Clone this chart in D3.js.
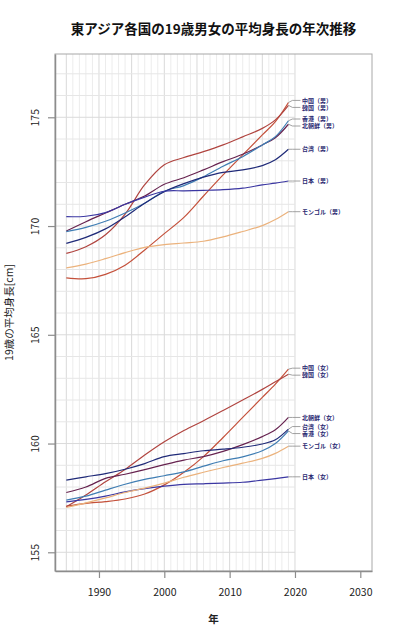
<!DOCTYPE html>
<html lang="ja">
<head>
<meta charset="utf-8">
<script src="https://cdn.jsdelivr.net/npm/d3@7"></script>
<style>
  body { margin: 0; background: #fff; }
  text { font-family: "Noto Sans CJK JP", "Noto Sans", sans-serif; }
  text.label { font-family: "Liberation Sans", "Noto Sans CJK JP", sans-serif; }
</style>
</head>
<body>
<div id="chart"></div>
<script>
// Years sampled from the curves
var years = [1985, 1988, 1991, 1994, 1997, 2000, 2003, 2006, 2009, 2012, 2015, 2017, 2019];

// Male heights (cm)
var maleChina    = [167.62, 167.58, 167.78, 168.2, 168.9, 169.65, 170.4, 171.38, 172.35, 173.27, 174.19, 174.8, 175.68];
var maleKorea    = [168.74, 169.05, 169.6, 170.55, 171.9, 172.82, 173.15, 173.42, 173.73, 174.1, 174.49, 174.88, 175.55];
var maleNKorea   = [169.77, 170.2, 170.6, 171.0, 171.38, 171.92, 172.22, 172.58, 172.96, 173.3, 173.73, 174.06, 174.68];
var maleHongKong = [169.74, 169.94, 170.22, 170.6, 171.05, 171.6, 171.86, 172.27, 172.75, 173.19, 173.73, 174.11, 174.84];
var maleTaiwan   = [169.2, 169.48, 169.87, 170.43, 171.05, 171.58, 171.95, 172.25, 172.47, 172.58, 172.78, 173.05, 173.53];
var maleJapan    = [170.43, 170.45, 170.62, 171.0, 171.33, 171.6, 171.62, 171.64, 171.67, 171.74, 171.89, 171.97, 172.07];
var maleMongolia = [168.08, 168.25, 168.5, 168.78, 169.02, 169.15, 169.22, 169.3, 169.5, 169.75, 170.02, 170.3, 170.66];

// Female heights (cm)
var femaleChina    = [157.12, 157.25, 157.33, 157.45, 157.68, 158.1, 158.68, 159.4, 160.28, 161.2, 162.12, 162.73, 163.42];
var femaleKorea    = [157.09, 157.63, 158.24, 158.81, 159.47, 160.08, 160.6, 161.05, 161.52, 162.0, 162.49, 162.84, 163.19];
var femaleNKorea   = [157.75, 158.0, 158.4, 158.59, 158.8, 159.03, 159.24, 159.4, 159.64, 159.95, 160.32, 160.63, 161.2];
var femaleHongKong = [157.4, 157.58, 157.86, 158.13, 158.35, 158.52, 158.7, 158.96, 159.21, 159.39, 159.67, 160.0, 160.58];
var femaleTaiwan   = [158.32, 158.47, 158.62, 158.82, 159.08, 159.4, 159.54, 159.67, 159.74, 159.83, 159.98, 160.17, 160.66];
var femaleJapan    = [157.32, 157.43, 157.58, 157.78, 157.93, 158.04, 158.12, 158.15, 158.18, 158.22, 158.32, 158.39, 158.47];
var femaleMongolia = [157.06, 157.27, 157.5, 157.75, 157.95, 158.18, 158.45, 158.68, 158.9, 159.1, 159.32, 159.55, 159.88];

var countries = ["中国", "韓国", "北朝鮮", "香港", "台湾", "日本", "モンゴル"];
var colors = ["#c4503a", "#b0443f", "#66224f", "#3f7db3", "#1f2a78", "#3b37a2", "#ebb27c"];

var xTicks = [1990, 2000, 2010, 2020, 2030];
var yTicks = [155, 160, 165, 170, 175];

var maleData = [maleChina, maleKorea, maleNKorea, maleHongKong, maleTaiwan, maleJapan, maleMongolia];
var femaleData = [femaleChina, femaleKorea, femaleNKorea, femaleHongKong, femaleTaiwan, femaleJapan, femaleMongolia];

// Build series list
var series = [];
for (var i = 0; i < countries.length; i++) {
    series.push({ name: countries[i] + "（男）", color: colors[i], values: maleData[i] });
    series.push({ name: countries[i] + "（女）", color: colors[i], values: femaleData[i] });
}

var svgWidth = 400, svgHeight = 640;
var margin = { top: 54, right: 28, bottom: 69, left: 55 };
var chartWidth = svgWidth - margin.left - margin.right;
var chartHeight = svgHeight - margin.top - margin.bottom;

var svg = d3.select("#chart").append("svg")
    .attr("width", svgWidth)
    .attr("height", svgHeight);

var chartGroup = svg.append("g")
    .attr("transform", `translate(${margin.left}, ${margin.top})`);

var xScale = d3.scaleLinear().domain([1983.27, 2031.79]).range([0, chartWidth]);
var yScale = d3.scaleLinear().domain([154.14, 177.91]).range([chartHeight, 0]);

// Grid: vertical every year, darker every 5
var gridYears = d3.range(1985, 2021);
chartGroup.selectAll(".vgrid")
    .data(gridYears)
    .enter()
    .append("line")
    .attr("x1", d => xScale(d))
    .attr("x2", d => xScale(d))
    .attr("y1", 0)
    .attr("y2", chartHeight)
    .attr("stroke", d => d % 5 === 0 ? "#d9d9d9" : "#ececec")
    .attr("stroke-width", 1);

var gridCm = d3.range(155, 178);
chartGroup.selectAll(".hgrid")
    .data(gridCm)
    .enter()
    .append("line")
    .attr("x1", 0)
    .attr("x2", xScale(2020))
    .attr("y1", d => yScale(d))
    .attr("y2", d => yScale(d))
    .attr("stroke", d => d % 5 === 0 ? "#dadada" : "#e6e6e6")
    .attr("stroke-width", 1);

// Box
chartGroup.append("rect")
    .attr("width", chartWidth)
    .attr("height", chartHeight)
    .attr("fill", "none")
    .attr("stroke", "#a8a8a8");

// Lines
var line = d3.line()
    .x((d, i) => xScale(years[i]))
    .y(d => yScale(d))
    .curve(d3.curveCatmullRom.alpha(0.5));

chartGroup.selectAll(".series")
    .data(series)
    .enter()
    .append("path")
    .attr("d", d => line(d.values))
    .attr("fill", "none")
    .attr("stroke", d => d.color)
    .attr("stroke-width", 1.2);

// Labels with a simple repel so close ends don't overlap
var minGap = 7;
var labels = series.map(d => ({ name: d.name, yEnd: yScale(d.values[d.values.length - 1]) }));
labels.forEach(d => d.y = d.yEnd);
labels.sort((a, b) => a.y - b.y);
for (var k = 0; k < 60; k++) {
    for (var j = 1; j < labels.length; j++) {
        var gap = labels[j].y - labels[j - 1].y;
        if (gap < minGap) {
            var push = (minGap - gap) / 2;
            labels[j].y += push;
            labels[j - 1].y -= push;
        }
    }
}

var xEnd = xScale(years[years.length - 1]);
chartGroup.selectAll(".leader")
    .data(labels)
    .enter()
    .append("path")
    .attr("d", d => `M${xEnd},${d.yEnd}L${xEnd + 4},${d.y}L${xEnd + 12},${d.y}`)
    .attr("fill", "none")
    .attr("stroke", "#8a8a8a")
    .attr("stroke-width", 0.8);

chartGroup.selectAll(".label")
    .data(labels)
    .enter()
    .append("text")
    .attr("class", "label")
    .attr("x", xEnd + 13.5)
    .attr("y", d => d.y)
    .attr("dy", "0.36em")
    .text(d => d.name)
    .attr("font-size", "6px")
    .attr("font-weight", "bold")
    .attr("fill", "#2a2a72");

// Axes
var xAxis = d3.axisBottom(xScale).tickValues(xTicks).tickFormat(d3.format("d")).tickSize(7).tickSizeOuter(0);
var yAxis = d3.axisLeft(yScale).tickValues(yTicks).tickSize(7).tickSizeOuter(0);

var gx = chartGroup.append("g")
    .attr("transform", `translate(0, ${chartHeight})`)
    .call(xAxis);
gx.select(".domain").attr("stroke", "#8c8c8c").attr("stroke-width", 1.5);
gx.selectAll(".tick line").attr("stroke", "#8c8c8c").attr("stroke-width", 1.2);
gx.selectAll(".tick text")
    .attr("y", 25).attr("dy", 0)
    .attr("font-size", "10.5px")
    .attr("fill", "#222")
    .style("font-family", "\"Noto Sans CJK JP\", sans-serif");

var gy = chartGroup.append("g").call(yAxis);
gy.select(".domain").attr("stroke", "#8c8c8c").attr("stroke-width", 1.5);
gy.selectAll(".tick line").attr("stroke", "#8c8c8c").attr("stroke-width", 1.2);
gy.selectAll(".tick text")
    .attr("transform", "rotate(-90)")
    .attr("x", 0).attr("y", -15.7).attr("dy", 0)
    .attr("text-anchor", "middle")
    .attr("font-size", "10.5px")
    .attr("fill", "#222")
    .style("font-family", "\"Noto Sans CJK JP\", sans-serif");

// Title
svg.append("text")
    .attr("x", margin.left + chartWidth / 2)
    .attr("y", 34)
    .attr("text-anchor", "middle")
    .attr("font-size", "13.5px")
    .attr("font-weight", "bold")
    .attr("fill", "#111")
    .text("東アジア各国の19歳男女の平均身長の年次推移");

// X axis label
svg.append("text")
    .attr("x", margin.left + chartWidth / 2)
    .attr("y", 623)
    .attr("text-anchor", "middle")
    .attr("font-size", "10.5px")
    .attr("font-weight", "bold")
    .attr("fill", "#222")
    .text("年");

// Y axis label
svg.append("text")
    .attr("transform", `translate(13, ${margin.top + chartHeight / 2}) rotate(-90)`)
    .attr("text-anchor", "middle")
    .attr("font-size", "10.5px")
    .attr("fill", "#222")
    .text("19歳の平均身長[cm]");
</script>
</body>
</html>
